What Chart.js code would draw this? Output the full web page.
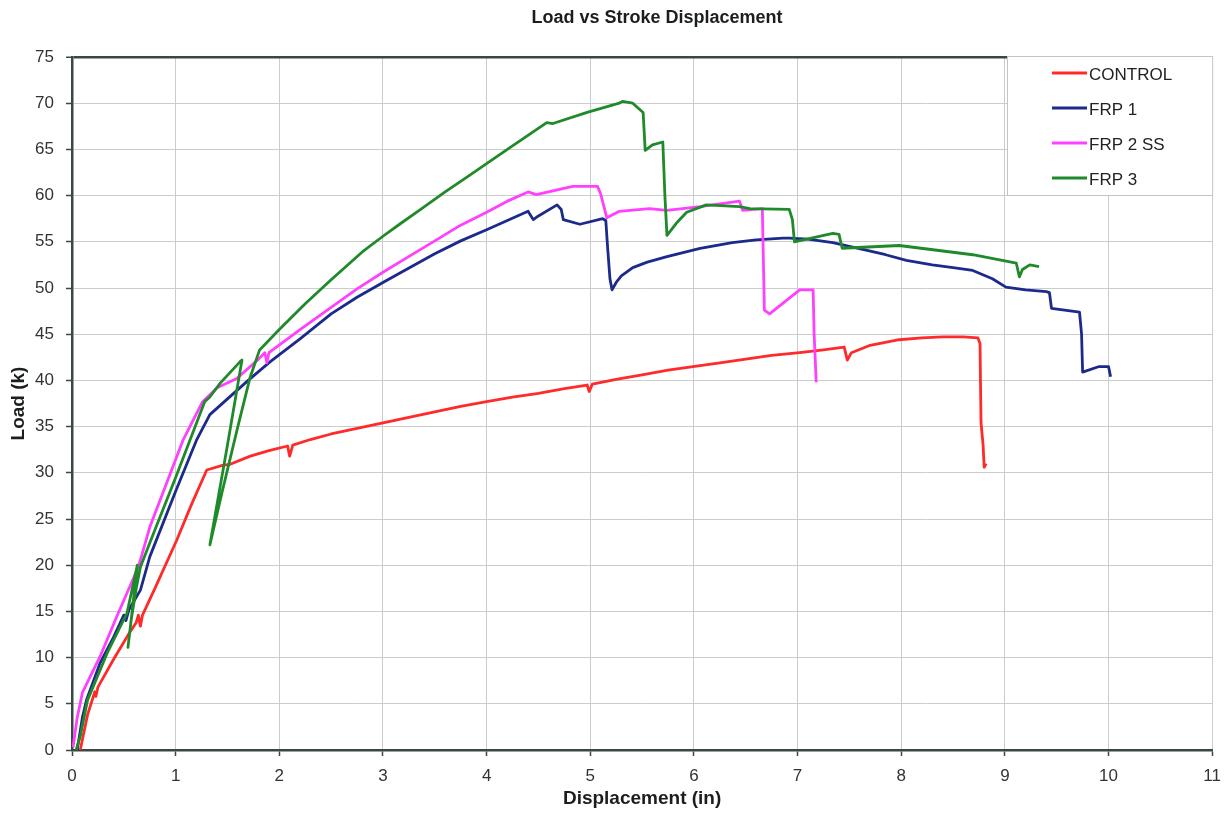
<!DOCTYPE html>
<html>
<head>
<meta charset="utf-8">
<script src="https://cdn.jsdelivr.net/npm/chart.js@4.4.1/dist/chart.umd.min.js"></script>
<style>
  html, body { margin: 0; padding: 0; background: #ffffff; }
  canvas { display: block; }
</style>
</head>
<body>
<canvas id="c" width="1231" height="822"></canvas>
<script>
// ---------- DATA ----------
const chartTitle = 'Load vs Stroke Displacement';
const xAxisTitle = 'Displacement (in)';
const yAxisTitle = 'Load (k)';
const seriesNames = ['CONTROL', 'FRP 1', 'FRP 2 SS', 'FRP 3'];

const controlDisp = [0.08,0.10,0.15,0.22,0.23,0.25,0.40,0.55,0.62,0.64,0.66,0.68,0.80,1.01,1.15,1.30,1.45,1.52,1.72,1.90,2.08,2.10,2.13,2.30,2.50,2.75,3.00,3.25,3.50,3.75,4.00,4.25,4.50,4.75,4.97,4.99,5.02,5.25,5.50,5.75,6.06,6.25,6.50,6.75,7.02,7.25,7.45,7.48,7.52,7.70,7.98,8.20,8.40,8.60,8.74,8.76,8.77,8.79,8.80,8.82];
const controlLoad = [0.0,1.1,3.8,6.3,5.8,6.8,9.8,12.6,13.8,14.6,13.4,14.6,17.5,22.7,26.5,30.3,30.8,30.9,31.8,32.4,32.9,31.8,33.0,33.6,34.2,34.8,35.4,36.0,36.6,37.2,37.7,38.2,38.6,39.1,39.5,38.8,39.6,40.1,40.6,41.1,41.6,41.9,42.3,42.7,43.0,43.3,43.6,42.2,43.0,43.8,44.4,44.6,44.7,44.7,44.6,44.0,35.4,33.0,30.6,31.0];

const frp1Disp = [0.05,0.10,0.14,0.27,0.40,0.50,0.52,0.55,0.66,0.75,1.00,1.20,1.33,1.50,1.70,1.91,2.20,2.50,2.75,3.00,3.16,3.50,3.75,4.00,4.20,4.40,4.45,4.50,4.68,4.72,4.74,4.90,5.12,5.15,5.17,5.19,5.21,5.25,5.30,5.41,5.55,5.74,6.06,6.37,6.60,6.86,6.92,7.10,7.34,7.50,7.66,7.85,8.05,8.30,8.50,8.69,8.88,9.01,9.20,9.40,9.43,9.45,9.72,9.74,9.75,9.91,10.00,10.02];
const frp1Load = [0.0,3.5,5.4,9.4,12.2,14.6,14.0,15.2,17.3,20.9,28.0,33.5,36.3,38.0,40.0,42.0,44.5,47.2,49.0,50.6,51.6,53.7,55.1,56.3,57.3,58.3,57.4,57.8,59.0,58.5,57.4,56.9,57.5,57.3,54.0,51.0,49.8,50.6,51.3,52.2,52.8,53.4,54.3,54.9,55.2,55.4,55.4,55.3,54.9,54.5,54.1,53.6,53.0,52.5,52.2,51.9,51.0,50.1,49.8,49.6,49.5,47.8,47.4,45.0,40.9,41.5,41.5,40.4];

const frp2Disp = [0.01,0.05,0.10,0.27,0.43,0.64,0.75,1.07,1.26,1.40,1.59,1.80,1.86,1.88,1.90,2.20,2.50,2.75,3.00,3.16,3.50,3.75,4.00,4.20,4.40,4.48,4.83,5.07,5.10,5.16,5.28,5.57,5.74,6.06,6.44,6.47,6.66,6.68,6.73,7.02,7.15,7.16,7.18];
const frp2Load = [0.3,3.5,6.2,10.1,14.4,19.8,24.1,33.5,37.7,39.2,40.2,42.3,43.0,41.9,43.0,45.5,47.9,49.9,51.7,52.8,55.1,56.8,58.2,59.4,60.4,60.1,61.0,61.0,60.2,57.6,58.3,58.6,58.4,58.8,59.4,58.4,58.6,47.6,47.2,49.8,49.8,45.0,39.8];

const frp3Disp = [0.04,0.08,0.15,0.34,0.53,0.63,0.60,0.56,0.54,0.57,0.62,0.66,0.75,1.00,1.28,1.33,1.43,1.62,1.64,1.50,1.33,1.45,1.60,1.72,1.81,2.00,2.25,2.50,2.80,3.00,3.16,3.35,3.60,3.81,4.20,4.58,4.64,4.97,5.28,5.31,5.41,5.51,5.53,5.60,5.70,5.72,5.74,5.83,5.93,6.12,6.44,6.54,6.92,6.95,6.97,7.34,7.40,7.43,7.98,8.69,9.11,9.14,9.17,9.24,9.33];
const frp3Load = [0.0,1.5,5.4,10.5,14.8,20.0,17.0,13.0,11.1,14.0,17.5,19.8,22.4,29.5,37.7,38.2,39.7,42.0,42.2,33.0,22.2,28.0,35.0,40.4,43.3,45.5,48.3,50.9,53.9,55.6,56.9,58.4,60.4,62.0,65.0,67.9,67.8,69.0,70.0,70.2,70.0,69.0,64.9,65.5,65.8,60.0,55.7,57.0,58.2,59.0,58.8,58.6,58.5,57.4,55.0,55.9,55.8,54.3,54.6,53.6,52.7,51.2,52.0,52.5,52.3];

const xTickMax = 11;
const yTickMax = 75;
const yTickStep = 5;

// ---------- STYLE ----------
const seriesColors = ['#ff2a2a', '#1c2a8c', '#ff40ff', '#1f8a2a'];
const axisColor = '#3a4842';
const gridColor = '#cccccc';

function pairs(xs, ys) { return xs.map((x, i) => ({ x: x, y: ys[i] })); }

const seriesData = [
  pairs(controlDisp, controlLoad),
  pairs(frp1Disp, frp1Load),
  pairs(frp2Disp, frp2Load),
  pairs(frp3Disp, frp3Load)
];

const datasets = seriesNames.map((name, i) => ({
  label: name,
  data: seriesData[i],
  borderColor: seriesColors[i],
  backgroundColor: seriesColors[i],
  borderWidth: 2.8,
  borderJoinStyle: 'round',
  showLine: true,
  pointRadius: 0,
  pointHoverRadius: 0,
  tension: 0,
  fill: false,
  order: seriesNames.length - i
}));

const bgPlugin = {
  id: 'bg',
  beforeDraw(chart) {
    const ctx = chart.ctx;
    ctx.save();
    ctx.fillStyle = '#ffffff';
    ctx.fillRect(0, 0, chart.width, chart.height);
    ctx.restore();
  }
};

const titleAndLegendPlugin = {
  id: 'titleLegend',
  afterDraw(chart) {
    const ctx = chart.ctx;
    const area = chart.chartArea;
    ctx.save();
    // chart title
    ctx.font = 'bold 18px "Liberation Sans", Arial, sans-serif';
    ctx.fillStyle = '#1a1f1c';
    ctx.textAlign = 'center';
    ctx.textBaseline = 'alphabetic';
    ctx.fillText(chartTitle, 657, 23);

    // legend box overlaid on the top-right of the plot
    const bx = 1007, by = area.top - 1, bw = area.right - 1007 + 1, bh = 140;
    ctx.fillStyle = '#ffffff';
    ctx.fillRect(bx, by - 1, bw + 1, bh + 1);
    ctx.strokeStyle = '#c4c4c4';
    ctx.lineWidth = 1;
    ctx.strokeRect(bx + 0.5, by + 0.5, bw - 1, bh - 1);
    ctx.font = '17px "Liberation Sans", Arial, sans-serif';
    ctx.textAlign = 'left';
    chart.data.datasets.forEach((ds, i) => {
      const ry = 73 + i * 35;
      ctx.strokeStyle = ds.borderColor;
      ctx.lineWidth = 3;
      ctx.beginPath();
      ctx.moveTo(1052, ry);
      ctx.lineTo(1087, ry);
      ctx.stroke();
      ctx.fillStyle = '#222222';
      ctx.fillText(ds.label, 1089, ry + 7);
    });
    ctx.restore();
  }
};

new Chart(document.getElementById('c'), {
  type: 'scatter',
  data: { datasets: datasets },
  plugins: [bgPlugin, titleAndLegendPlugin],
  options: {
    responsive: false,
    animation: false,
    devicePixelRatio: 1,
    layout: { padding: { top: 57, right: 18, left: 0, bottom: 0 } },
    plugins: {
      legend: { display: false },
      title: { display: false },
      tooltip: { enabled: false }
    },
    scales: {
      x: {
        type: 'linear',
        min: 0,
        max: xTickMax,
        afterFit(axis) { axis.height = 72; },
        ticks: {
          stepSize: 1,
          color: '#333333',
          font: { family: '"Liberation Sans", Arial, sans-serif', size: 17 },
          padding: 10,
          maxRotation: 0
        },
        grid: {
          color: gridColor,
          lineWidth: 1,
          tickLength: 6,
          tickColor: axisColor,
          tickWidth: 1.5
        },
        border: { color: axisColor, width: 2.5 },
        title: {
          display: true,
          text: xAxisTitle,
          color: '#1a1f1c',
          font: { family: '"Liberation Sans", Arial, sans-serif', size: 19, weight: 'bold' },
          padding: { top: 0, bottom: 12 }
        }
      },
      y: {
        type: 'linear',
        min: 0,
        max: yTickMax,
        afterFit(axis) { axis.width = 72; },
        ticks: {
          stepSize: yTickStep,
          color: '#333333',
          font: { family: '"Liberation Sans", Arial, sans-serif', size: 17 },
          padding: 12
        },
        grid: {
          color: (c) => (c.tick && c.tick.value === yTickMax ? axisColor : gridColor),
          lineWidth: (c) => (c.tick && c.tick.value === yTickMax ? 2.5 : 1),
          tickLength: 6,
          tickColor: axisColor,
          tickWidth: 1.5
        },
        border: { color: axisColor, width: 2.5 },
        title: {
          display: true,
          text: yAxisTitle,
          color: '#1a1f1c',
          font: { family: '"Liberation Sans", Arial, sans-serif', size: 19, weight: 'bold' },
          padding: { top: 7, bottom: 0 }
        }
      }
    }
  }
});
</script>
</body>
</html>
